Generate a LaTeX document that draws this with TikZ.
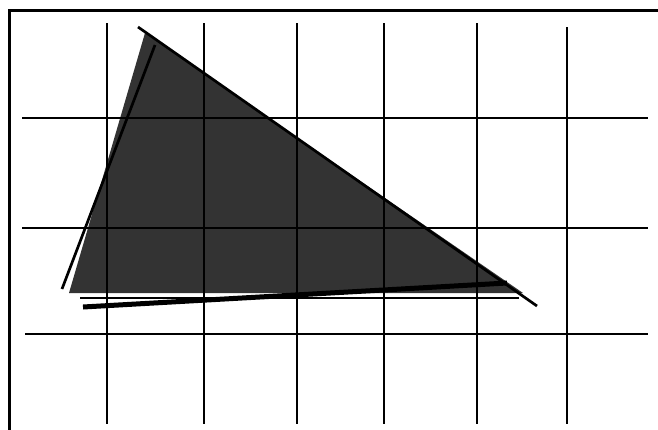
\documentclass[tikz,border=0pt]{standalone}
\begin{document}
\begin{tikzpicture}[x=1pt,y=-1pt,
  gridline/.style={line width=2.7pt,black},
  frameline/.style={line width=3pt,black},
  edgeline/.style={line width=2.7pt,black},
  heavyline/.style={line width=5pt,black},
  thinline/.style={line width=2.2pt,black}]
\useasboundingbox (0,0) rectangle (658,429);
\fill[white] (0,0) rectangle (658,429);
% frame (extends beyond right/bottom)
\draw[frameline] (9,440) -- (9,10) -- (670,10);
% triangle
\coordinate (T) at (145,33);
\coordinate (L) at (69,293);
\coordinate (R) at (523,293);
\fill[fill={rgb,255:red,51;green,51;blue,51}] (T) -- (L) -- (R) -- cycle;
% vertical grid
\foreach \x in {107,204,297,384,477} \draw[gridline] (\x,23) -- (\x,424);
\draw[gridline] (567,27) -- (567,424);
% horizontal grid
\draw[gridline] (22,118) -- (648,118);
\draw[gridline] (22,228) -- (648,228);
\draw[gridline] (25,334) -- (648,334);
% edge lines
\coordinate (h1) at (138,27);
\coordinate (h2) at (537,306);
\draw[edgeline] (h1) -- (h2);
\coordinate (l1) at (155,45);
\coordinate (l2) at (62,289);
\draw[edgeline] (l1) -- (l2);
\coordinate (b1) at (80,298);
\coordinate (b2) at (519,298);
\draw[thinline] (b1) -- (b2);
\coordinate (k1) at (83,307);
\coordinate (k2) at (507,283);
\draw[heavyline] (k1) -- (k2);
\end{tikzpicture}
\end{document}
